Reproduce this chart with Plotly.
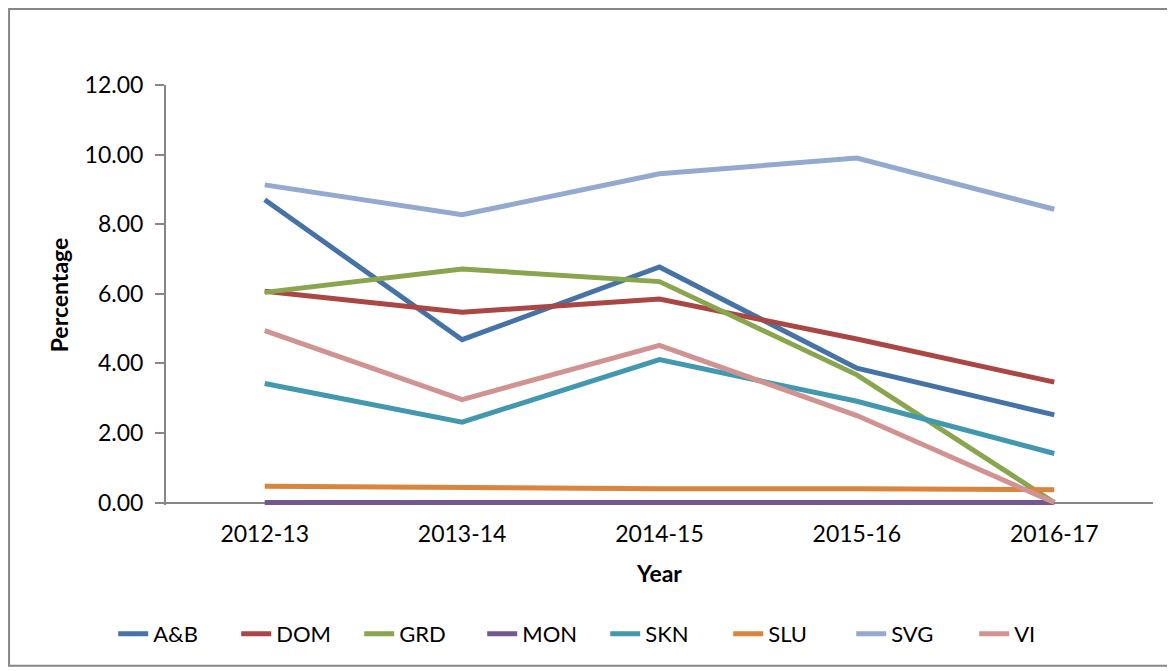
import plotly.graph_objects as go

years = ["2012-13", "2013-14", "2014-15", "2015-16", "2016-17"]

ab = [8.70, 4.68, 6.77, 3.86, 2.52]
dom = [6.07, 5.47, 5.85, 4.70, 3.46]
grd = [6.04, 6.71, 6.35, 3.67, 0.00]
mon = [0.00, 0.00, 0.00, 0.00, 0.00]
skn = [3.42, 2.31, 4.11, 2.91, 1.41]
slu = [0.47, 0.42, 0.40, 0.40, 0.37]
svg = [9.13, 8.27, 9.45, 9.90, 8.43]
vi = [4.94, 2.96, 4.52, 2.50, 0.00]

series = [
    ("A&B", ab, "#4572A7"),
    ("DOM", dom, "#AA4643"),
    ("GRD", grd, "#89A54E"),
    ("MON", mon, "#71588F"),
    ("SKN", skn, "#4198AF"),
    ("SLU", slu, "#DB843D"),
    ("SVG", svg, "#93A9CF"),
    ("VI", vi, "#D19392"),
]

fig = go.Figure()
for name, values, color in series:
    fig.add_trace(go.Scatter(
        x=years, y=values, name=name, mode="lines",
        line=dict(color=color, width=5),
    ))

font = "Lato, 'Open Sans', sans-serif"
fig.update_layout(
    width=1175, height=671,
    margin=dict(l=158, r=30, t=77, b=174),
    paper_bgcolor="white", plot_bgcolor="white",
    font=dict(family=font, size=23, color="black"),
    showlegend=True,
    legend=dict(orientation="h", x=0.445, xanchor="center", y=-0.307, yanchor="middle",
                font=dict(size=22), itemwidth=30, entrywidth=78, tracegroupgap=0,
                bgcolor="rgba(0,0,0,0)"),
    xaxis=dict(
        type="category", range=[-0.5, 4.5], showgrid=False, automargin=False,
        showline=False, ticks="",
        tickfont=dict(size=23), ticklabelstandoff=13,
        title=dict(text="<b>Year</b>", font=dict(size=23), standoff=19),
    ),
    yaxis=dict(
        range=[-0.07, 12], dtick=2, tickformat=".2f", showgrid=False,
        zeroline=True, zerolinecolor="#868686", zerolinewidth=2,
        automargin=False,
        showline=True, linecolor="#868686", linewidth=2,
        ticks="outside", ticklen=9, tickcolor="#868686", tickwidth=2,
        tickfont=dict(size=23), ticklabelstandoff=7,
        title=dict(text="<b>Percentage</b>", font=dict(size=23), standoff=10),
    ),
    shapes=[dict(
        type="rect", xref="paper", yref="paper",
        x0=-0.159, x1=1.017, y0=-0.383, y1=1.181,
        line=dict(color="#868686", width=2),
    )],
)

fig.write_html("out.html")
